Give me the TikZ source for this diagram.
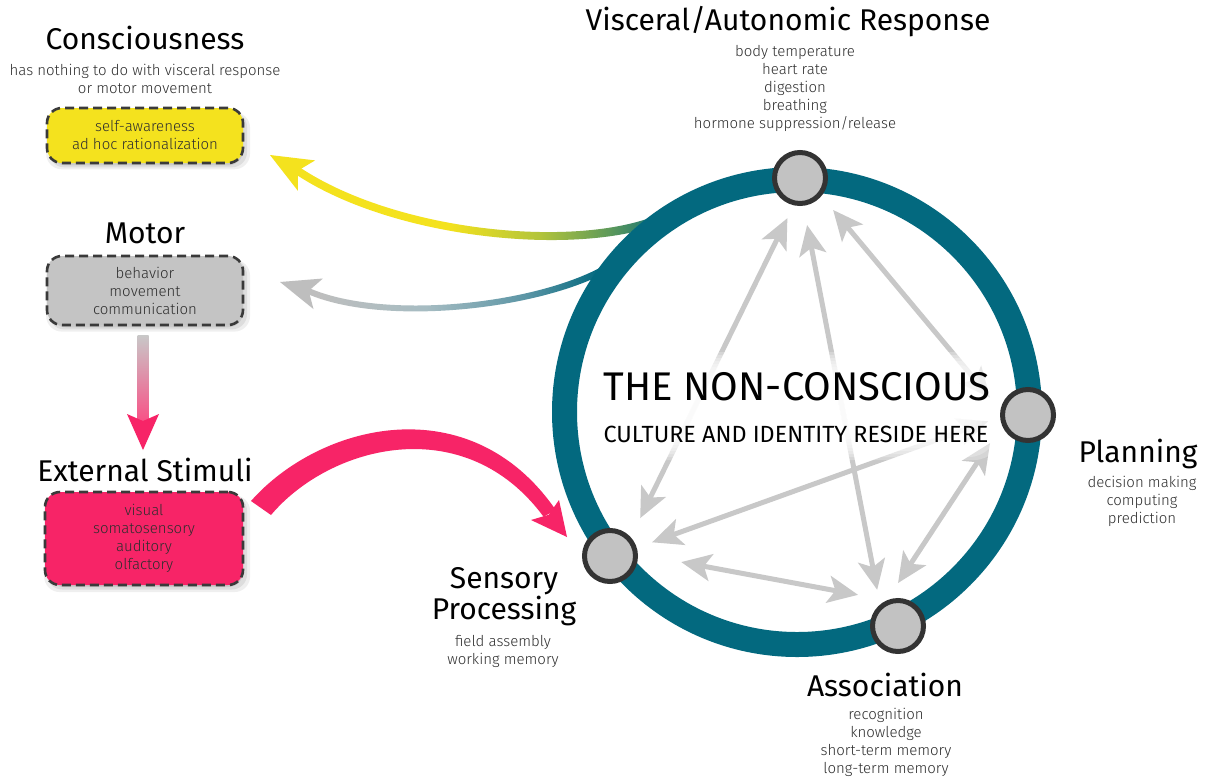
\documentclass[tikz,border=0pt]{standalone}
\usepackage{fontspec}
\setmainfont{Fira Sans}
\newfontfamily\lightfont{Fira Sans Light}
\usetikzlibrary{arrows.meta,shadows}
\definecolor{ringc}{HTML}{03697F}
\definecolor{yel}{HTML}{F4E21E}
\definecolor{ygreen}{HTML}{B2C43A}
\definecolor{grn}{HTML}{5E9A5A}
\definecolor{pinkc}{HTML}{F72467}
\definecolor{boxgray}{HTML}{C4C4C4}
\definecolor{hubfill}{HTML}{C2C2C2}
\definecolor{hubline}{HTML}{333333}
\definecolor{linkgray}{HTML}{C8C8C8}
\definecolor{dashc}{HTML}{3A3A3A}
\definecolor{subc}{HTML}{2E2E2E}
\definecolor{g0}{HTML}{BEBEBE}
\definecolor{g1}{HTML}{A6BCC2}
\definecolor{g2}{HTML}{5B95A5}
\pgfdeclarehorizontalshading{yelgrad}{100bp}{color(0bp)=(yel); color(45bp)=(yel); color(57bp)=(ygreen); color(66bp)=(grn); color(74bp)=(ringc); color(100bp)=(ringc)}
\pgfdeclarehorizontalshading{graygrad}{100bp}{color(0bp)=(g0); color(27bp)=(g0); color(43bp)=(g1); color(58bp)=(g2); color(69bp)=(ringc); color(100bp)=(ringc)}
\tikzset{
  title/.style={font=\fontsize{30}{28}\selectfont, text=black, inner sep=0, align=center},
  sub/.style={font=\lightfont\fontsize{15}{18}\selectfont, text=subc, inner sep=0, align=center},
  box/.style={rounded corners=15pt, draw=dashc, line width=2.6pt, dash pattern=on 9pt off 5pt,
    minimum width=196pt, align=center, inner sep=0, text=subc,
    font=\lightfont\fontsize{15}{18}\selectfont,
    drop shadow={opacity=0.12, shadow xshift=3pt, shadow yshift=-5pt, shadow scale=1.04},
    drop shadow={opacity=0.16, shadow xshift=3pt, shadow yshift=-4pt, shadow scale=1.01},
    drop shadow={opacity=0.2, shadow xshift=2pt, shadow yshift=-3pt, shadow scale=0.98}},
  hubanchor/.style={circle, minimum size=51pt, inner sep=0, line width=5pt},
  hub/.style={hubanchor, draw=hubline, fill=hubfill},
  link/.style={draw=linkgray, line width=5pt,
    arrows={Stealth[length=30pt,width=27pt,inset=7pt]-Stealth[length=30pt,width=27pt,inset=7pt]}},
  bigtext/.style={inner sep=0, text=black}
}
\begin{document}
\begin{tikzpicture}[x=1pt,y=-1pt]
\fill[white] (0,0) rectangle (1207,782);
\useasboundingbox (0,0) rectangle (1207,782);

% invisible placeholders giving the hubs' anchors
\node[hubanchor] (vis) at (800,178) {};
\node[hubanchor] (pla) at (1028,415) {};
\node[hubanchor] (ass) at (898,626) {};
\node[hubanchor] (sen) at (610,556) {};

% yellow arrow to consciousness
\shade[shading=yelgrad] (298,166.2) .. controls (401,236) and (598,251) .. (672,208)
   -- (678,216) .. controls (602,259) and (399,244) .. (294.1,173.2) -- cycle;
\coordinate (ytip) at (270,155);
\fill[yel] (ytip) -- (315.1,160.4) -- (297.8,170.7) -- (297.9,190.8) -- cycle;

% gray arrow to motor
\shade[shading=graygrad] (307.6,287.4) .. controls (396,327) and (593,297) .. (633,242)
   -- (639,247) .. controls (597,303) and (394,333) .. (305.8,293.2) -- cycle;
\coordinate (gtip) at (280,282);
\fill[g0] (gtip) -- (322.9,278.5) -- (308.7,290.9) -- (313.5,309.1) -- cycle;

% links between hubs
\draw[link, shorten <=14.3pt, shorten >=21.3pt] (vis.-103.8) -- (sen.42.5);
\draw[link, shorten <=19.6pt, shorten >=15pt] (vis.-83.2) -- (ass.130.5);
\draw[link, shorten <=18.2pt, shorten >=16.2pt] (vis.-40.2) -- (pla.170.5);
\draw[link, shorten <=16.3pt, shorten >=12.8pt] (sen.17.7) -- (pla.-176.7);
\draw[link, shorten <=21.5pt, shorten >=20.8pt] (pla.-159.1) -- (ass.114);
\draw[link, shorten <=44pt, shorten >=29.5pt] (sen.4) -- (ass.113);

% soft white glow behind the central text
\foreach \k in {0,...,9}{
  \fill[white, opacity=0.25, rounded corners=28pt]
    ({590+5*\k},{352+3*\k}) rectangle ({1002-5*\k},{460-3*\k});
}

% ring and hubs
\draw[ringc, line width=25pt] (797,412) circle (232.5);
\node[hub] (visdot) at (vis) {};
\node[hub] (pladot) at (pla) {};
\node[hub] (assdot) at (ass) {};
\node[hub] (sendot) at (sen) {};

\node[bigtext, font=\fontsize{40}{42}\selectfont] (nc) at (797,387) {THE NON-CONSCIOUS};
\node[bigtext, font=\fontsize{23.4}{26}\selectfont] (cu) at (796,434) {CULTURE AND IDENTITY RESIDE HERE};

% labels of hubs
\node[title] (tvis) at (788,22) {Visceral/Autonomic Response};
\node[sub] (svis) at (795,88) {body temperature\\heart rate\\digestion\\breathing\\hormone suppression/release};
\node[title] (tpla) at (1138,454) {Planning};
\node[sub] (spla) at (1142,501) {decision making\\computing\\prediction};
\node[title] (tass) at (885,685) {Association};
\node[sub] (sass) at (886,742) {recognition\\knowledge\\short-term memory\\long-term memory};
\node[title] (tsen) at (504,597) {Sensory\\Processing};
\node[sub] (ssen) at (503,651) {field assembly\\working memory};

% left column
\node[title] (tcon) at (145,38) {Consciousness};
\node[sub] (scon) at (145,79) {has nothing to do with visceral response\\or motor movement};
\node[box, fill=yel, minimum height=55pt] (cbox) at (145,135.5) {self-awareness\\ad hoc rationalization};

\node[title] (tmot) at (145,233) {Motor};
\node[box, fill=boxgray, minimum height=69pt] (mbox) at (145,290.5) {behavior\\movement\\communication};

\node[title] (text) at (145,470) {External Stimuli};
\node[box, fill=pinkc, minimum width=198pt, minimum height=93pt] (ebox) at (144,538.5) {visual\\somatosensory\\auditory\\olfactory};

% motor -> external stimuli
\shade[top color=linkgray, bottom color=pinkc!80!white] (137.5,335) rectangle (148.5,422);
\fill[pinkc] (143,450) -- (127,414) -- (143,421) -- (159,414) -- cycle;

% external stimuli -> sensory processing
\fill[pinkc] (251,501) .. controls (320,423) and (470,386) .. (555.6,509.8)
   -- (543.6,516.8) .. controls (465,410) and (330,445) .. (271,515) -- cycle;
\fill[pinkc] (567,537) -- (531,520) -- (548.6,514.8) -- (559,500) -- cycle;
\end{tikzpicture}
\end{document}
